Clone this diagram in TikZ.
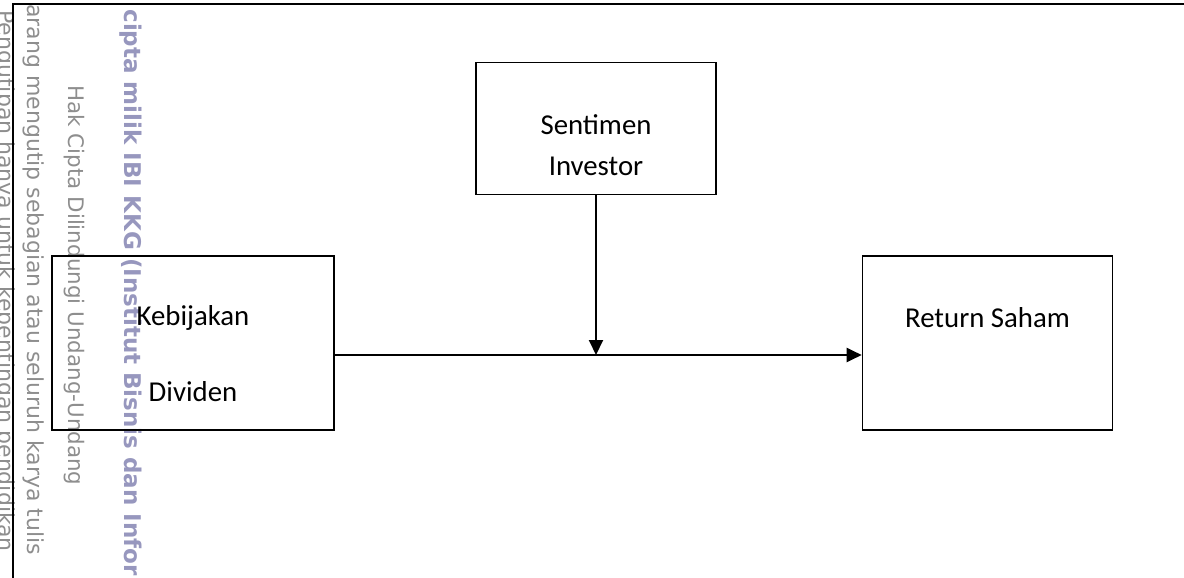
\documentclass[tikz,border=0pt]{standalone}
\usepackage{fontspec}
\setmainfont{Carlito}
\newfontfamily\wmfont{DejaVu Sans}
\usetikzlibrary{arrows.meta}
\definecolor{wmgray}{HTML}{8E8E8E}
\definecolor{wmpurple}{HTML}{9797BE}
\tikzset{
  box/.style={draw, line width=0.8pt, inner sep=0pt},
  lbl/.style={font=\fontsize{14.4}{17}\selectfont, inner sep=0pt},
  wm/.style={rotate=-90, anchor=west, inner sep=0pt, text=wmgray,
    font=\wmfont\fontsize{11}{13}\selectfont},
  link/.style={line width=1pt, -{Triangle[length=7.5pt,width=7pt]}}
}
\begin{document}
\begin{tikzpicture}[x=0.5pt, y=-0.5pt]
  \useasboundingbox (0,0) rectangle (1184,578);
  \clip (0,0) rectangle (1184,578);
  \node[wm] (wmd) at (5,10) {Pengutipan hanya untuk kepentingan pendidikan};
  \node[wm] (wmc) at (34,4) {arang mengutip sebagian atau seluruh karya tulis};
  \node[wm, font=\wmfont\fontsize{10.7}{13}\selectfont] (wmb) at (74,85) {Hak Cipta Dilindungi Undang-Undang};
  \node[wm, text=wmpurple, font=\wmfont\bfseries\fontsize{11.5}{13}\selectfont] (wma) at (131,9) {cipta milik IBI KKG (Institut Bisnis dan Infor};
  \draw[line width=1.3pt] (13,578) -- (13,4) -- (1184,4);
  \node[box, minimum width=141pt, minimum height=87pt] (kd) at (193,343) {};
  \node[box, minimum width=120pt, minimum height=66pt] (si) at (596,128.5) {};
  \node[box, minimum width=125pt, minimum height=87pt] (rs) at (987.5,343) {};
  \node[lbl] (kd1) at (193,318) {Kebijakan};
  \node[lbl] (kd2) at (193,392) {Dividen};
  \node[lbl] (si1) at (596,125) {Sentimen};
  \node[lbl] (si2) at (596,166) {Investor};
  \node[lbl] (rs1) at (987.5,318) {Return Saham};
  \coordinate (mid) at (596,355);
  \draw[link] (kd.east |- mid) -- (rs.west |- mid);
  \draw[link] (si.south) -- (mid);
\end{tikzpicture}
\end{document}
